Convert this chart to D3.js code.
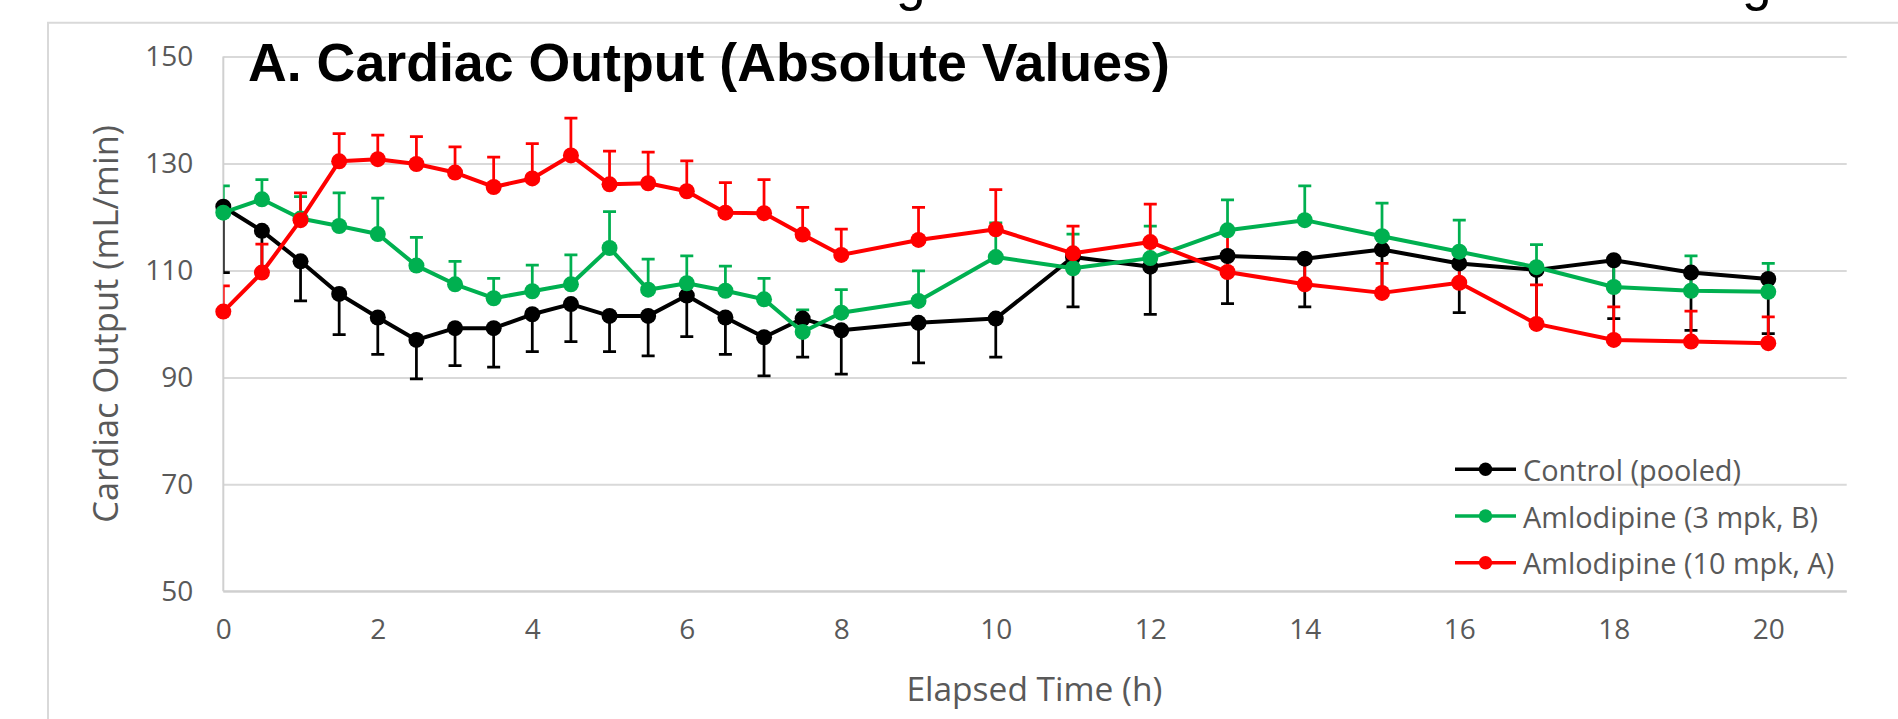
<!DOCTYPE html>
<html>
<head>
<meta charset="utf-8">
<script src="https://cdn.jsdelivr.net/npm/d3@7"></script>
<style>
  html, body { margin: 0; padding: 0; background: #ffffff; }
  svg { display: block; }
</style>
</head>
<body>
<svg id="chart" width="1898" height="719"></svg>
<script>
// Sampling times (h)
const hours = [0, 0.5, 1, 1.5, 2, 2.5, 3, 3.5, 4, 4.5, 5, 5.5, 6, 6.5, 7, 7.5, 8,
               9, 10, 11, 12, 13, 14, 15, 16, 17, 18, 19, 20];

// Cardiac output means and SEM (mL/min)
const controlMean = [121.9, 117.4, 111.7, 105.6, 101.2, 97.0, 99.2, 99.2, 101.8, 103.7, 101.5, 101.5, 105.3, 101.2, 97.5, 101.0, 98.8,
                     100.2, 101.0, 112.5, 110.7, 112.7, 112.2, 113.9, 111.3, 110.1, 111.9, 109.6, 108.4];
const controlSem  = [12.3, 7.8, 7.4, 7.6, 6.9, 7.3, 7.0, 7.3, 7.0, 7.0, 6.7, 7.5, 7.7, 6.9, 7.2, 7.2, 8.2,
                     7.5, 7.2, 9.3, 8.9, 8.9, 9.0, 8.2, 9.2, 10.0, 10.9, 10.8, 10.2];

const amlo3Mean = [120.8, 123.3, 119.7, 118.3, 116.8, 110.9, 107.4, 104.8, 106.1, 107.4, 114.2, 106.4, 107.6, 106.2, 104.6, 98.5, 102.1,
                   104.3, 112.5, 110.4, 112.3, 117.5, 119.4, 116.4, 113.5, 110.6, 106.9, 106.2, 106.0];
const amlo3Sem  = [5.0, 3.7, 4.1, 6.2, 6.7, 5.3, 4.3, 3.7, 4.9, 5.5, 6.8, 5.7, 5.1, 4.6, 3.9, 4.1, 4.3,
                   5.6, 6.4, 6.4, 6.0, 5.7, 6.4, 6.2, 5.9, 4.2, 5.0, 6.5, 5.3];

const amlo10Mean = [102.3, 109.6, 119.4, 130.4, 130.8, 129.9, 128.3, 125.6, 127.2, 131.5, 126.1, 126.3, 124.8, 120.8, 120.7, 116.7, 112.9,
                    115.7, 117.7, 113.2, 115.3, 109.7, 107.4, 105.8, 107.7, 100.0, 97.0, 96.7, 96.4];
const amlo10Sem  = [4.8, 5.3, 5.1, 5.2, 4.5, 5.1, 4.8, 5.6, 6.5, 7.0, 6.2, 5.8, 5.7, 5.6, 6.3, 5.1, 4.8,
                    6.1, 7.4, 5.1, 7.1, 7.5, 5.0, 5.5, 4.0, 7.3, 6.2, 5.7, 4.9];

const seriesNames  = ["Control (pooled)", "Amlodipine (3 mpk, B)", "Amlodipine (10 mpk, A)"];
const seriesColors = ["#000000", "#00B050", "#FF0000"];
// error bars: control drawn downward, treatments upward
const errorSign    = [-1, 1, 1];

const xTicks = [0, 2, 4, 6, 8, 10, 12, 14, 16, 18, 20];
const yTicks = [50, 70, 90, 110, 130, 150];

const chartTitle = "A. Cardiac Output (Absolute Values)";
const xTitle = "Elapsed Time (h)";
const yTitle = "Cardiac Output (mL/min)";

const series = [
  { mean: controlMean, sem: controlSem },
  { mean: amlo3Mean,   sem: amlo3Sem },
  { mean: amlo10Mean,  sem: amlo10Sem }
].map((s, i) => ({
  name: seriesNames[i],
  color: seriesColors[i],
  sign: errorSign[i],
  points: hours.map((h, j) => ({ t: h, v: s.mean[j], e: s.sem[j] }))
}));

const svg = d3.select("#chart");
const W = 1898, H = 719;
const plot = { left: 223.3, right: 1845.5, top: 56.5, bottom: 591.3 };
const gridRight = 1846.7;

const x = d3.scaleLinear().domain([0, 21]).range([plot.left, plot.right]);
const y = d3.scaleLinear().domain([50, 150]).range([plot.bottom, plot.top]);

const labelFont = "'Open Sans', Lato, sans-serif";
const labelColor = "#595959";
const gridColor = "#D9D9D9";

// scale a text's font size so that it spans the given width
function fitWidth(sel, width) {
  const node = sel.node();
  const fs = parseFloat(sel.attr("font-size"));
  const len = node.getComputedTextLength();
  if (len > 0) sel.attr("font-size", (fs * width / len).toFixed(2));
  return sel;
}

svg.append("rect").attr("width", W).attr("height", H).attr("fill", "#ffffff");

// fragment of the heading above, cut by the top edge
svg.append("g")
  .selectAll("text")
  .data([896, 1742])
  .join("text")
  .attr("x", d => d)
  .attr("y", 0)
  .attr("font-family", "'Liberation Sans', Arial, sans-serif")
  .attr("font-size", 53)
  .attr("fill", "#000")
  .text("g");

// chart frame
svg.append("path")
  .attr("d", `M48,${H} V22.7 H${W}`)
  .attr("fill", "none")
  .attr("stroke", gridColor)
  .attr("stroke-width", 2);

// horizontal gridlines
const grid = svg.append("g")
  .attr("transform", `translate(${plot.left},0)`)
  .call(d3.axisLeft(y).tickValues(yTicks).tickSize(-(gridRight - plot.left)).tickFormat(""));
grid.select(".domain").remove();
grid.selectAll(".tick line").attr("stroke", gridColor).attr("stroke-width", 2);

// y axis line
svg.append("line")
  .attr("x1", plot.left).attr("x2", plot.left)
  .attr("y1", plot.top).attr("y2", plot.bottom)
  .attr("stroke", "#D0D0D0").attr("stroke-width", 2);
// x axis line
svg.append("line")
  .attr("x1", plot.left).attr("x2", gridRight)
  .attr("y1", plot.bottom).attr("y2", plot.bottom)
  .attr("stroke", "#CFCFCF").attr("stroke-width", 2);

// y tick labels
const yAxis = svg.append("g")
  .attr("transform", `translate(${plot.left},0)`)
  .call(d3.axisLeft(y).tickValues(yTicks).tickSize(0).tickPadding(30));
yAxis.select(".domain").remove();
yAxis.selectAll("text")
  .attr("font-family", labelFont).attr("font-size", 28).attr("fill", labelColor);

// x tick labels
const xAxis = svg.append("g")
  .attr("transform", `translate(0,${plot.bottom})`)
  .call(d3.axisBottom(x).tickValues(xTicks).tickSize(0).tickPadding(28));
xAxis.select(".domain").remove();
xAxis.selectAll("text")
  .attr("font-family", labelFont).attr("font-size", 28).attr("fill", labelColor);

// axis titles
const yt = svg.append("text")
  .attr("transform", `translate(104,${(plot.top + plot.bottom) / 2}) rotate(-90)`)
  .attr("text-anchor", "middle")
  .attr("dominant-baseline", "central")
  .attr("font-family", labelFont).attr("font-size", 28).attr("fill", labelColor)
  .text(yTitle);
fitWidth(yt, 398);

const xt = svg.append("text")
  .attr("x", (plot.left + plot.right) / 2)
  .attr("y", 688)
  .attr("text-anchor", "middle")
  .attr("dominant-baseline", "central")
  .attr("font-family", labelFont).attr("font-size", 28).attr("fill", labelColor)
  .text(xTitle);
fitWidth(xt, 256);

// clip for error bars
svg.append("clipPath").attr("id", "plot-clip")
  .append("rect")
  .attr("x", plot.left).attr("y", 0)
  .attr("width", gridRight - plot.left).attr("height", plot.bottom);

// error bars (all series first, beneath lines and markers)
const capHalf = 6.5;
const errLayer = svg.append("g").attr("clip-path", "url(#plot-clip)");
series.forEach(s => {
  const g = errLayer.append("g")
    .attr("stroke", s.color).attr("stroke-width", 2.75).attr("fill", "none");
  g.selectAll("path")
    .data(s.points)
    .join("path")
    .attr("d", d => {
      const px = x(d.t), y0 = y(d.v), y1 = y(d.v + s.sign * d.e);
      return `M${px},${y0} V${y1} M${px - capHalf},${y1} H${px + capHalf}`;
    });
});

// lines and markers
const line = d3.line().x(d => x(d.t)).y(d => y(d.v));
series.forEach(s => {
  const g = svg.append("g");
  g.append("path")
    .datum(s.points)
    .attr("d", line)
    .attr("fill", "none")
    .attr("stroke", s.color)
    .attr("stroke-width", 4)
    .attr("stroke-linejoin", "round");
  g.selectAll("circle")
    .data(s.points)
    .join("circle")
    .attr("cx", d => x(d.t))
    .attr("cy", d => y(d.v))
    .attr("r", 8)
    .attr("fill", s.color);
});

// legend
const legendRows = [469.3, 516, 562.7];
const legend = svg.append("g");
series.forEach((s, i) => {
  const row = legend.append("g").attr("transform", `translate(0,${legendRows[i]})`);
  row.append("line")
    .attr("x1", 1455).attr("x2", 1516)
    .attr("stroke", s.color).attr("stroke-width", 3.5);
  row.append("circle")
    .attr("cx", 1485.5).attr("r", 6.7).attr("fill", s.color);
  const t = row.append("text")
    .attr("x", 1523)
    .attr("dominant-baseline", "central")
    .attr("font-family", labelFont).attr("font-size", 26).attr("fill", labelColor)
    .text(s.name);
  if (i === 0) fitWidth(t, 218);
});
// all legend entries share the first entry's size
const legendSize = legend.select("text").attr("font-size");
legend.selectAll("text").attr("font-size", legendSize);

// chart title
svg.append("text")
  .attr("x", 248)
  .attr("y", 81)
  .attr("font-family", "'Liberation Sans', Arial, sans-serif")
  .attr("font-weight", "bold")
  .attr("font-size", 53.7)
  .attr("fill", "#000")
  .text(chartTitle);
</script>
</body>
</html>
